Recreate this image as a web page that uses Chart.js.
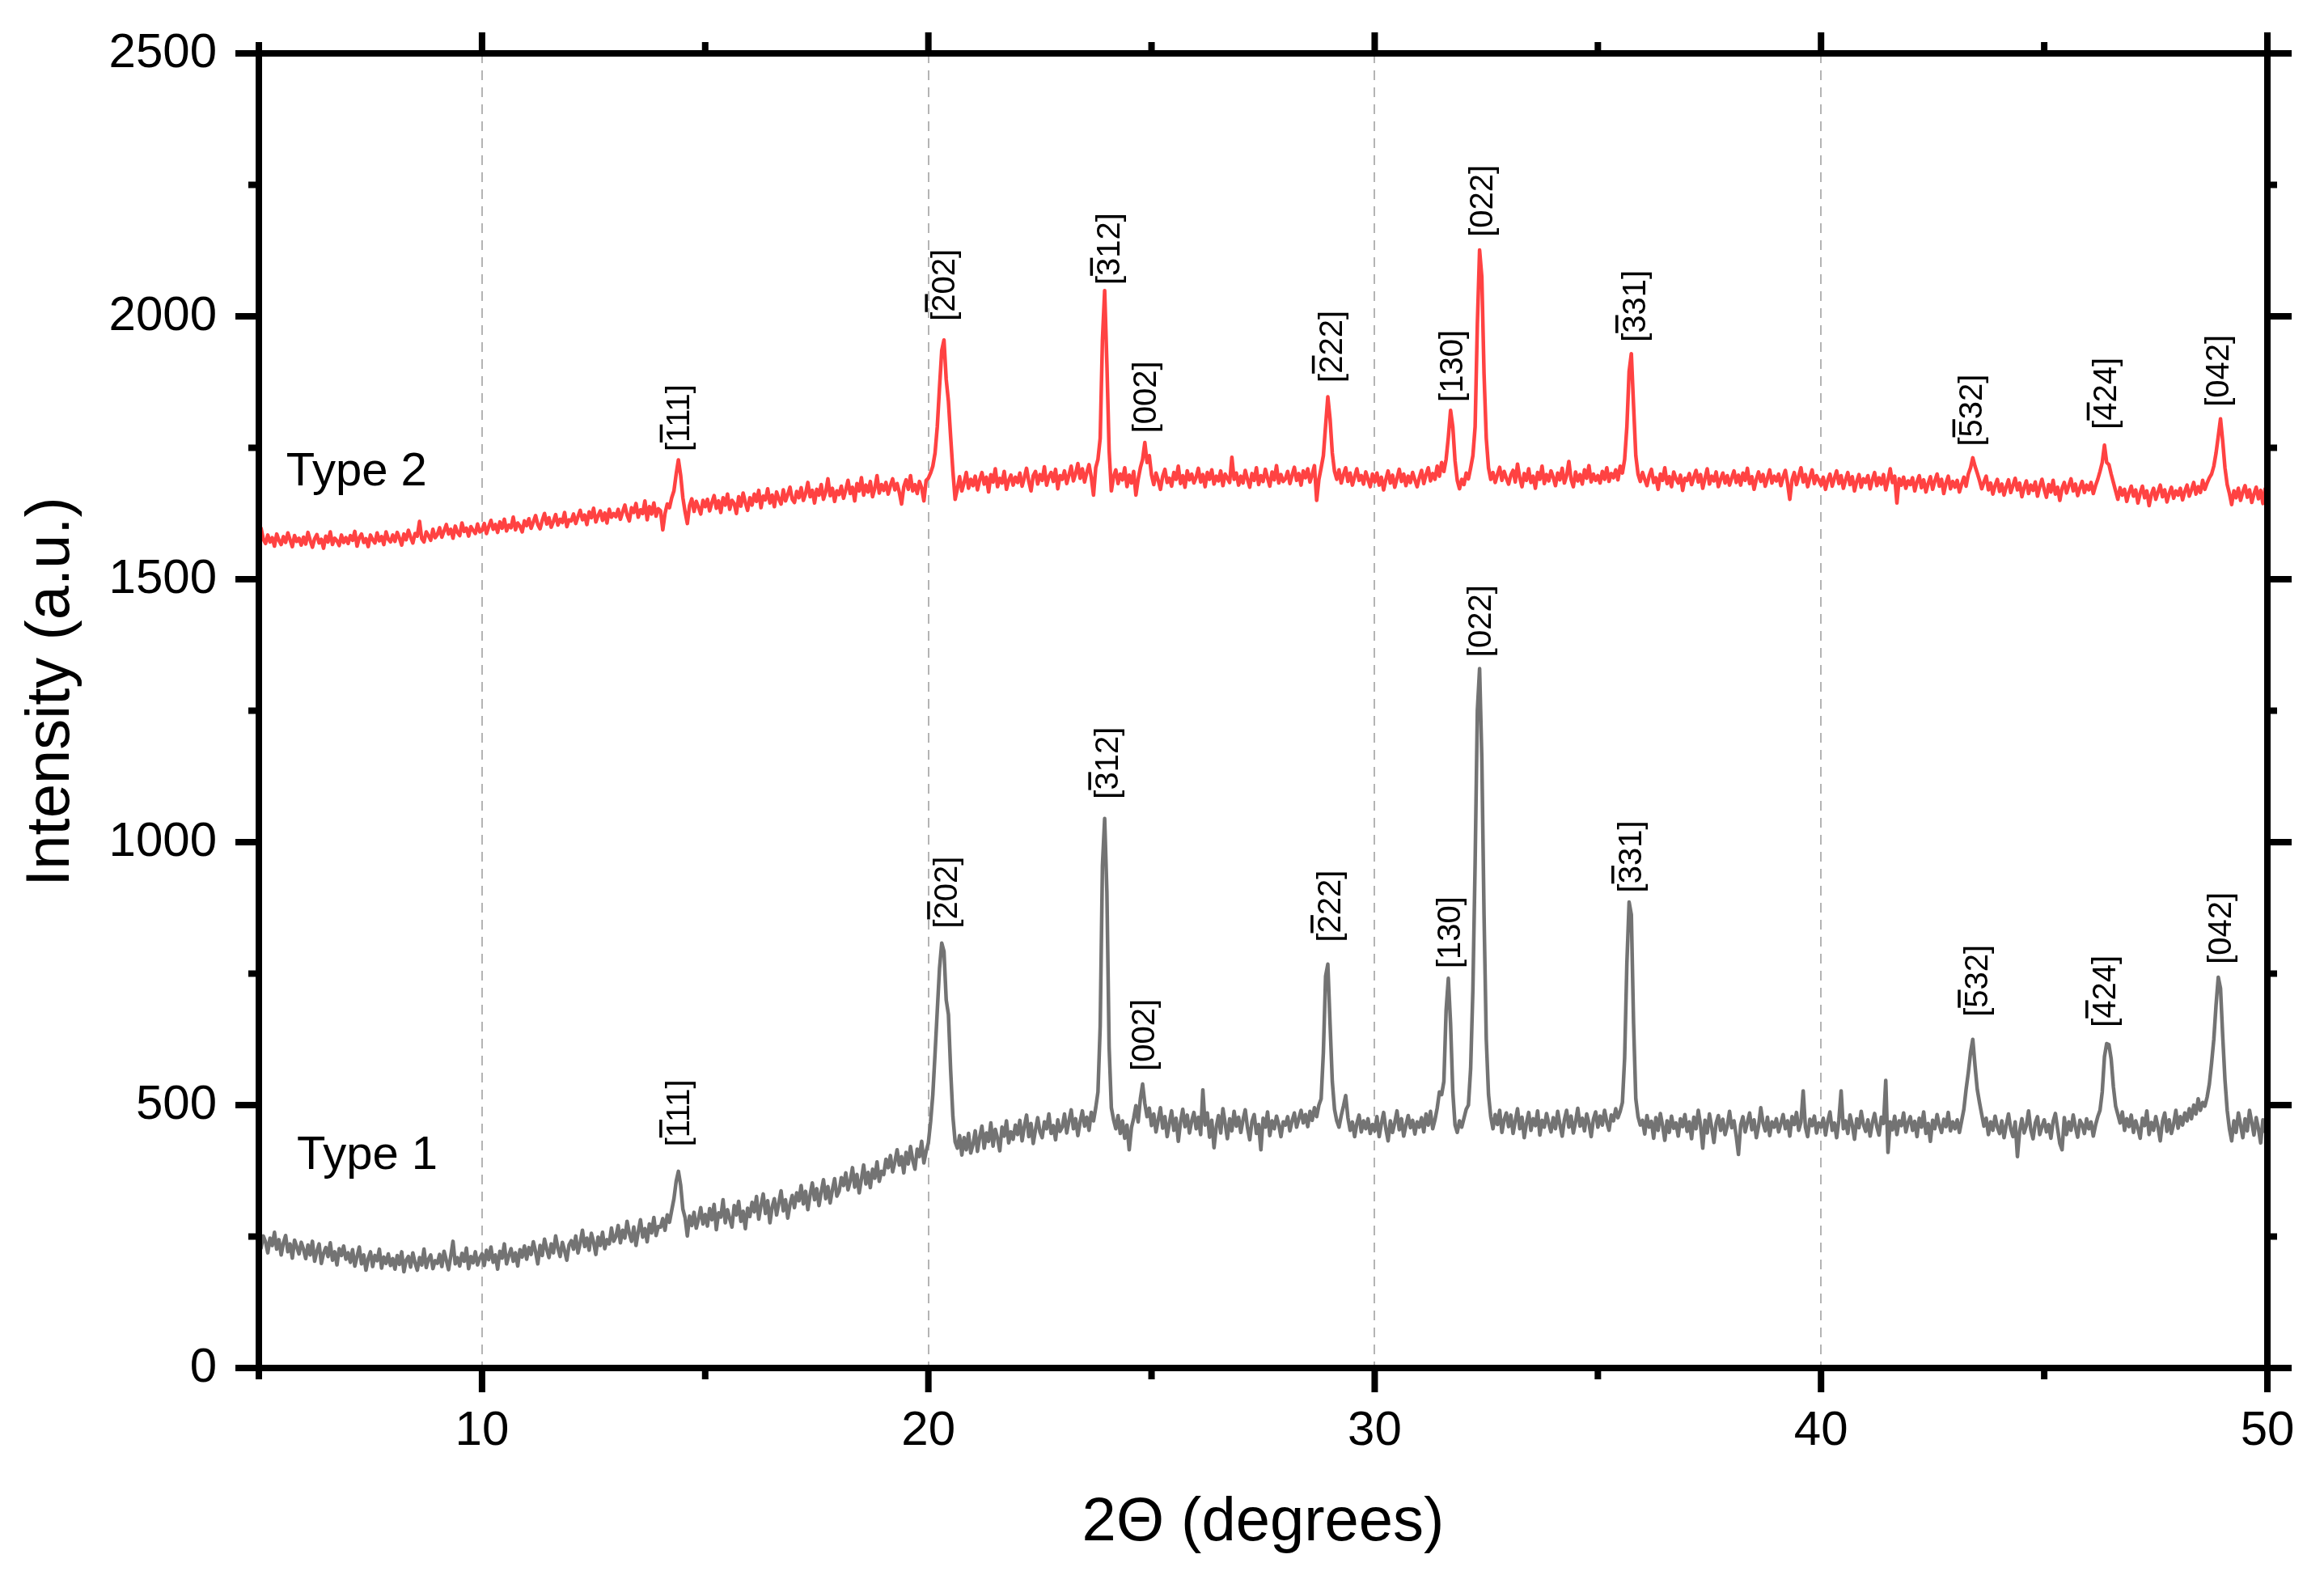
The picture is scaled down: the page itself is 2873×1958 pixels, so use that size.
<!DOCTYPE html>
<html>
<head>
<meta charset="utf-8">
<script src="https://cdn.jsdelivr.net/npm/chart.js@4/dist/chart.umd.min.js"></script>
<style>
  html, body { margin: 0; padding: 0; background: #fff; }
  canvas { display: block; }
</style>
</head>
<body>
<canvas id="xrd" width="2873" height="1958"></canvas>
<script>
// scan: 5 to 50 deg 2theta, one reading every 0.05 deg
const scanStart = 5;
const scanStep = 0.05;

// Type 1 intensity, one row per degree (d.00 ... d.95)
const typeOne = [
  262, 228, 251, 240, 219, 247, 233, 258, 226, 244, 215, 238, 252, 221, 236, 209, 243, 230, 217, 239,
  226, 208, 234, 215, 241, 203, 222, 236, 199, 218, 229, 212, 238, 205, 221, 196, 227, 214, 232, 207,
  219, 201, 225, 194, 212, 230, 198, 215, 186, 208, 221, 193, 214, 204, 226, 190, 211, 199, 217, 195,
  208, 188, 214, 197, 221, 183, 205, 212, 192, 219, 200, 186, 210, 196, 226, 191, 207, 215, 189, 204,
  199, 216, 193, 222, 205, 187, 213, 241, 198, 210, 194, 218, 203, 228, 189, 212, 200, 221, 196, 209,
  217, 195, 224, 206, 230, 201, 215, 188, 222, 209, 236, 198, 214, 227, 203, 219, 194, 225, 211, 232,
  207, 229, 216, 240, 221, 198, 233, 214, 245, 226, 210, 236, 219, 251, 228, 212, 239, 223, 205, 234,
  242, 226, 251, 219, 238, 262, 231, 247, 224, 256, 239, 216, 249, 233, 258, 227, 244, 236, 266, 241,
  250, 271, 238, 262, 247, 279, 256, 241, 268, 233, 259, 282, 249, 265, 240, 274, 257, 286, 252, 269,
  268, 284, 262, 291, 277, 300, 322, 355, 374, 348, 302, 286, 251, 289, 271, 296, 266, 283, 305, 274,
  292, 270, 303, 282, 311, 263, 295, 287, 320, 276, 301, 284, 268, 309, 291, 317, 279, 298, 265, 304,
  288, 315, 297, 326, 283, 309, 331, 294, 318, 276, 306, 322, 291, 314, 337, 299, 320, 285, 311, 328,
  305, 333, 318, 347, 312, 336, 301, 329, 352, 320, 341, 309, 335, 358, 322, 345, 314, 339, 360, 327,
  336, 362, 347, 371, 339, 356, 381, 344, 368, 333, 359, 386, 350, 372, 343, 378, 361, 392, 355, 374,
  368, 397, 381, 404, 373, 392, 415, 386, 402, 371, 410, 388, 421, 395, 378, 416, 402, 431, 390, 412,
  428, 468, 520, 598, 680, 760, 808, 792, 700, 672, 565, 478, 430, 418, 442, 405, 438, 415, 446, 409,
  425, 451, 412, 439, 460, 418, 447, 431, 466, 422, 454, 437, 413, 458, 441, 470, 428, 449, 435, 462,
  444, 471, 432, 459, 481, 440, 465, 427, 453, 476, 449, 438, 468, 455, 483, 446, 461, 434, 472, 450,
  458, 483, 447, 470, 491, 455, 474, 442, 468, 489, 460, 477, 452, 486, 470, 495, 525, 650, 955, 1045,
  905, 610, 495, 472, 455, 480, 446, 470, 437, 462, 415, 457, 475, 499, 468, 512, 540, 503, 478, 494,
  461, 483, 449, 472, 495, 456, 478, 440, 466, 489, 452, 475, 431, 468, 492, 459, 481, 447, 470, 486,
  455, 477, 444, 529, 462, 485, 439, 471, 419, 458, 480, 447, 493, 465, 436, 474, 451, 488, 460, 477,
  448, 472, 491, 457, 434, 469, 482, 446, 463, 415, 475, 458, 487, 442, 470, 455, 479, 463, 440, 468,
  462, 478, 451, 470, 485, 458, 474, 490, 466, 482, 459, 488, 471, 495, 478, 500, 512, 600, 745, 768,
  655, 545, 492, 470, 458, 480, 498, 518, 476, 452, 468, 440, 465, 481, 449, 470, 455, 474, 446, 463,
  451, 478, 440, 465, 486, 455, 432, 470, 448, 467, 489, 453, 474, 441, 462, 480, 457, 471, 445, 468,
  458, 476, 449, 483, 462, 488, 455, 472, 494, 525, 520, 545, 680, 741, 655, 525, 462, 448, 470, 458,
  475, 492, 500, 570, 720, 960, 1250, 1330, 1160, 860, 625, 520, 478, 455, 482, 463, 490, 448, 472, 485,
  459, 481, 446, 470, 493, 455, 477, 438, 466, 486, 452, 474, 461, 489, 443, 471, 458, 484, 465, 449,
  476, 455, 488, 463, 441, 472, 490, 458, 479, 447, 468, 494, 460, 475, 451, 483, 466, 440, 473, 487,
  458, 479, 462, 490, 468, 452, 481, 470, 493, 476, 488, 505, 590, 770, 886, 862, 655, 512, 478, 462,
  471, 445, 480, 458, 469, 437, 476, 452, 484, 461, 433, 470, 448, 479, 456, 466, 441, 474, 459, 482,
  450, 468, 436, 477, 455, 490, 462, 418, 471, 447, 483, 458, 429, 466, 480, 452, 473, 444, 461, 488,
  457, 470, 441, 406, 462, 478, 449, 467, 485, 453, 472, 438, 460, 495, 466, 451, 477, 442, 468, 458,
  474, 449, 465, 482, 455, 470, 441, 478, 463, 486, 452, 468, 527, 458, 440, 473, 461, 479, 447, 466,
  458, 475, 443, 469, 487, 452, 466, 438, 472, 527, 455, 470, 446, 481, 462, 435, 474, 457, 488, 463,
  450, 472, 441, 466, 484, 459, 443, 477, 465, 547, 410, 468, 453, 479, 444, 470, 461, 485, 449, 467,
  478, 452, 469, 440, 475, 458, 487, 446, 465, 431, 471, 455, 482, 462, 448, 473, 459, 486, 451, 468,
  455, 472, 448, 470, 492, 530, 562, 600, 625, 575, 530, 505, 482, 460, 475, 444, 468, 452, 479, 458,
  446, 470, 438, 462, 483, 455, 440, 468, 402, 451, 474, 447, 461, 489, 453, 436, 466, 478, 444, 459,
  472, 449, 463, 437, 469, 484, 455, 427, 415, 476, 444, 468, 452, 481, 458, 439, 471, 463, 446, 474,
  455, 468, 441, 462, 478, 490, 525, 592, 617, 615, 588, 535, 498, 482, 466, 487, 452, 474, 459, 481,
  448, 470, 456, 437, 475, 461, 489, 444, 467, 452, 478, 458, 432, 469, 485, 450, 472, 446, 464, 490,
  456, 478, 462, 485, 470, 493, 474, 500, 483, 512, 490, 505, 498, 515, 540, 580, 625, 690, 743, 722,
  630, 548, 490, 455, 432, 470, 448, 485, 462, 438, 474, 451, 490, 467, 443, 476, 455, 428, 472, 450,
  440
];

// Type 2 intensity, same grid
const typeTwo = [
  1558, 1597, 1576, 1568, 1584, 1571, 1579, 1563, 1586, 1574, 1566, 1581, 1570, 1588, 1575, 1562, 1583, 1572, 1578, 1565,
  1580, 1567, 1589, 1574, 1561, 1577, 1585, 1569, 1576, 1559, 1582, 1571, 1590, 1566, 1578, 1573, 1564, 1584, 1570, 1579,
  1568, 1583, 1574, 1591, 1563, 1579, 1586, 1570, 1577, 1562, 1584, 1575, 1569, 1588, 1573, 1581, 1566, 1590, 1576, 1571,
  1584, 1572, 1589, 1578, 1565, 1586, 1575, 1593, 1580, 1569, 1587, 1582, 1610, 1577, 1571, 1590, 1583, 1574, 1595, 1579,
  1585, 1598, 1580, 1592, 1604, 1586, 1595, 1578, 1601, 1589, 1583, 1607, 1591, 1597, 1582, 1600, 1593, 1587, 1605, 1590,
  1593, 1606, 1587, 1600, 1612, 1595, 1604, 1589, 1609, 1597, 1614, 1592, 1603, 1598, 1618, 1594, 1607, 1601, 1590, 1611,
  1602, 1615, 1597, 1609, 1621, 1604, 1596, 1612, 1625, 1605, 1617, 1599, 1610, 1623, 1603, 1614, 1608, 1627, 1600, 1613,
  1611, 1624, 1606, 1619, 1631, 1613, 1622, 1604, 1628, 1617, 1635, 1609, 1621, 1630, 1612, 1626, 1607, 1633, 1618, 1625,
  1619, 1633, 1614, 1628, 1641, 1622, 1611, 1636, 1627, 1644, 1618, 1632, 1625, 1649, 1613, 1638, 1624, 1645, 1620, 1634,
  1630, 1594, 1625, 1643, 1636, 1655, 1668, 1700, 1727, 1698, 1655, 1628, 1606, 1640, 1653, 1629, 1648, 1637, 1624, 1650,
  1638, 1652, 1630, 1646, 1659, 1635, 1649, 1627, 1655, 1641, 1662, 1633, 1650, 1644, 1625, 1657, 1639, 1664, 1646, 1631,
  1655, 1641, 1662, 1648, 1669, 1636, 1658, 1651, 1672, 1645, 1660, 1638, 1666, 1653, 1643, 1670, 1649, 1661, 1675, 1652,
  1646, 1667, 1655, 1674, 1650, 1663, 1684, 1657, 1669, 1645, 1671, 1660, 1680, 1652, 1666, 1691, 1659, 1673, 1648, 1668,
  1661, 1677, 1654, 1670, 1688, 1663, 1675, 1649, 1682, 1668, 1693, 1660, 1679, 1666, 1686, 1657, 1673, 1697, 1664, 1680,
  1669, 1684, 1662, 1678, 1691, 1670, 1682, 1665, 1643, 1676, 1689, 1671, 1697, 1668, 1680, 1663, 1686, 1674, 1649, 1688,
  1692, 1702, 1715, 1740, 1790, 1865, 1935, 1955, 1880, 1838, 1770, 1705, 1652, 1672, 1695, 1668, 1684, 1703, 1673, 1690,
  1678, 1696, 1670, 1689, 1703, 1681, 1694, 1666, 1699, 1685, 1710, 1676, 1692, 1683, 1705, 1671, 1688, 1698, 1679, 1694,
  1684, 1702, 1677, 1693, 1711, 1686, 1668, 1697, 1705, 1681, 1699, 1688, 1714, 1679, 1695, 1703, 1686, 1709, 1672, 1697,
  1690, 1706, 1682, 1698, 1715, 1687, 1701, 1720, 1692, 1710, 1685, 1703, 1718, 1694, 1660, 1712, 1728, 1768, 1955, 2049,
  1910, 1745, 1668, 1695, 1708, 1682, 1700, 1689, 1712, 1676, 1698, 1683, 1705, 1660, 1690, 1712, 1728, 1760, 1722, 1735,
  1698, 1680, 1702, 1688, 1671, 1696, 1709, 1684, 1692, 1677, 1703, 1690, 1715, 1682, 1697, 1675, 1706, 1689, 1700, 1683,
  1694, 1711, 1685, 1699, 1676, 1703, 1690, 1708, 1681, 1696, 1687, 1706, 1678, 1700, 1692, 1684, 1732, 1690, 1702, 1679,
  1696, 1683, 1707, 1690, 1675, 1701, 1688, 1712, 1680, 1697, 1686, 1709, 1692, 1677, 1704, 1689, 1716, 1683, 1699, 1686,
  1691, 1705, 1682, 1698, 1713, 1688, 1701, 1679, 1706, 1693, 1710, 1685, 1699, 1716, 1650, 1690, 1712, 1735, 1792, 1847,
  1805, 1740, 1705, 1690, 1708, 1683, 1699, 1712, 1686, 1702, 1679, 1695, 1710, 1688, 1697, 1681, 1704, 1690, 1676, 1700,
  1685, 1702, 1679, 1694, 1670, 1690, 1706, 1683, 1698, 1675, 1692, 1709, 1686, 1700, 1678, 1696, 1684, 1703, 1689, 1676,
  1693, 1707, 1682, 1699, 1712, 1687, 1701, 1690, 1715, 1696, 1722, 1705, 1728, 1770, 1821, 1790, 1725, 1688, 1672, 1690,
  1680, 1702, 1691, 1712, 1735, 1790, 1985, 2126, 2075, 1890, 1768, 1712, 1690, 1703, 1684, 1699, 1713, 1688, 1705, 1692,
  1681, 1698, 1707, 1685, 1719, 1693, 1676, 1701, 1688, 1710, 1684, 1696, 1673, 1703, 1690, 1715, 1682, 1699, 1687, 1706,
  1694, 1678, 1702, 1689, 1711, 1683, 1697, 1724, 1690, 1676, 1704, 1687, 1699, 1681, 1708, 1692, 1716, 1685, 1700, 1688,
  1697, 1683, 1705, 1690, 1712, 1686, 1701, 1693, 1708, 1689, 1715, 1702, 1728, 1790, 1895, 1929, 1830, 1735, 1700, 1686,
  1703, 1690, 1678, 1697, 1709, 1684, 1693, 1671, 1700, 1688, 1712, 1682, 1695, 1676, 1704, 1691, 1683, 1698, 1669, 1692,
  1688, 1701, 1680, 1694, 1707, 1685, 1699, 1673, 1692, 1710, 1681, 1696, 1687, 1704, 1676, 1690, 1702, 1683, 1697, 1679,
  1693, 1706, 1684, 1698, 1679, 1702, 1688, 1711, 1682, 1695, 1671, 1690, 1704, 1686, 1699, 1677, 1692, 1708, 1683, 1696,
  1687, 1700, 1678, 1694, 1707, 1683, 1652, 1689, 1703, 1680, 1696, 1712, 1685, 1699, 1676, 1693, 1708, 1682, 1697, 1688,
  1679, 1694, 1671, 1688, 1700, 1677, 1692, 1706, 1682, 1697, 1673, 1689, 1703, 1680, 1695, 1668, 1686, 1699, 1675, 1691,
  1684, 1697, 1672, 1689, 1703, 1678, 1693, 1681, 1699, 1670, 1688, 1710, 1684, 1696, 1645, 1691, 1679, 1694, 1673, 1687,
  1680, 1693, 1668, 1685, 1697, 1674, 1689, 1666, 1682, 1695, 1671, 1687, 1700, 1677, 1690, 1663, 1683, 1696, 1672, 1686,
  1675, 1688, 1666, 1681, 1694, 1677, 1700, 1712, 1731, 1715, 1702, 1688, 1672, 1685, 1696, 1670, 1683, 1662, 1678, 1690,
  1667, 1681, 1660, 1676, 1689, 1665, 1678, 1692, 1670, 1683, 1657, 1674, 1687, 1663, 1679, 1669, 1685, 1658, 1676, 1690,
  1671, 1656, 1680, 1666, 1688, 1662, 1675, 1650, 1673, 1684, 1664, 1678, 1691, 1668, 1681, 1659, 1674, 1686, 1665, 1679,
  1670, 1684, 1663, 1678, 1690, 1705, 1722, 1755, 1722, 1718, 1700, 1684, 1668, 1652, 1674, 1660, 1671, 1648, 1665, 1677,
  1658, 1670, 1645, 1664, 1677, 1655, 1668, 1640, 1661, 1673, 1652, 1666, 1679, 1657, 1670, 1647, 1663, 1675, 1654, 1668,
  1660, 1673, 1651, 1667, 1679, 1658, 1670, 1684, 1662, 1676, 1665, 1688, 1671, 1683, 1693, 1700, 1715, 1740, 1772, 1805,
  1762, 1712, 1680, 1663, 1642, 1668, 1655, 1673, 1650, 1666, 1678, 1656, 1670, 1646, 1662, 1675, 1653, 1669, 1644, 1672,
  1660
];

// reflections; hklBar marks a negative first index
const hkl = ['111', '202', '312', '002', '222', '130', '022', '331', '532', '424', '042'];
const hklBar = [true, true, true, false, true, false, false, true, true, true, false];
const labelAngleOne = [14.45, 20.45, 24.06, 24.88, 29.04, 31.72, 32.42, 35.78, 43.54, 46.40, 49.00];
const labelLevelOne = [421, 836, 1082, 565, 810, 760, 1352, 904, 668, 648, 768];
const labelAngleTwo = [14.46, 20.40, 24.10, 24.91, 29.07, 31.77, 32.45, 35.87, 43.42, 46.43, 48.95];
const labelLevelTwo = [1743, 1991, 2060, 1778, 1874, 1837, 2151, 1951, 1753, 1785, 1828];

const seriesNames = ['Type 1', 'Type 2'];
const seriesNameAngle = [5.85, 5.61];
const seriesNameLevel = [378, 1678];

const xMajor = [10, 20, 30, 40, 50];
const xMinor = [5, 15, 25, 35, 45];
const yMajor = [0, 500, 1000, 1500, 2000, 2500];
const yMinor = [250, 750, 1250, 1750, 2250];

const FONT = '"Liberation Sans", Arial, sans-serif';

const twoTheta = typeOne.map((v, i) => +(scanStart + i * scanStep).toFixed(2));
const pts = arr => arr.map((v, i) => ({ x: twoTheta[i], y: v }));

const decor = {
  id: 'decor',
  afterDraw(chart) {
    const ctx = chart.ctx;
    const a = chart.chartArea;
    const x = chart.scales.x, y = chart.scales.y;
    ctx.save();

    // frame + ticks on all four sides, pointing out
    ctx.strokeStyle = '#000';
    ctx.lineCap = 'butt';
    ctx.lineWidth = 8;
    const seg = (x1, y1, x2, y2) => { ctx.beginPath(); ctx.moveTo(x1, y1); ctx.lineTo(x2, y2); ctx.stroke(); };
    xMajor.forEach(v => { const p = x.getPixelForValue(v); seg(p, a.bottom, p, a.bottom + 30); seg(p, a.top, p, a.top - 26); });
    xMinor.forEach(v => { const p = x.getPixelForValue(v); seg(p, a.bottom, p, a.bottom + 14); seg(p, a.top, p, a.top - 14); });
    yMajor.forEach(v => { const p = y.getPixelForValue(v); seg(a.left, p, a.left - 29, p); seg(a.right, p, a.right + 30, p); });
    yMinor.forEach(v => { const p = y.getPixelForValue(v); seg(a.left, p, a.left - 13, p); seg(a.right, p, a.right + 12, p); });
    ctx.lineJoin = 'miter';
    ctx.strokeRect(a.left, a.top, a.right - a.left, a.bottom - a.top);

    // y title
    ctx.fillStyle = '#000';
    ctx.font = '76px ' + FONT;
    ctx.save();
    ctx.translate(64, 855);
    ctx.rotate(-Math.PI / 2);
    ctx.textAlign = 'center';
    ctx.textBaseline = 'middle';
    ctx.fillText('Intensity (a.u.)', 0, 0);
    ctx.restore();

    // series names
    ctx.font = '58px ' + FONT;
    ctx.textAlign = 'left';
    ctx.textBaseline = 'alphabetic';
    seriesNames.forEach((s, i) => {
      ctx.fillText(s, x.getPixelForValue(seriesNameAngle[i]), y.getPixelForValue(seriesNameLevel[i]));
    });

    // peak labels, rotated
    const size = 40;
    ctx.font = size + 'px ' + FONT;
    const wB = ctx.measureText('[').width;
    const drawSet = (angles, levels) => {
      hkl.forEach((h, i) => {
        ctx.save();
        ctx.translate(x.getPixelForValue(angles[i]), y.getPixelForValue(levels[i]));
        ctx.rotate(-Math.PI / 2);
        ctx.textAlign = 'left';
        ctx.textBaseline = 'alphabetic';
        ctx.fillText('[' + h + ']', 0, 0.26 * size);
        if (hklBar[i]) {
          const wD = ctx.measureText(h[0]).width;
          ctx.fillRect(wB, -0.47 * size - 7.5, wD, 3.5);
        }
        ctx.restore();
      });
    };
    drawSet(labelAngleOne, labelLevelOne);
    drawSet(labelAngleTwo, labelLevelTwo);

    ctx.restore();
  }
};

new Chart(document.getElementById('xrd'), {
  type: 'line',
  data: {
    datasets: [
      { label: 'Type 1', data: pts(typeOne), borderColor: '#737373', borderWidth: 4.5 },
      { label: 'Type 2', data: pts(typeTwo), borderColor: '#ff4242', borderWidth: 4.5 }
    ]
  },
  options: {
    responsive: false,
    devicePixelRatio: 1,
    animation: false,
    parsing: false,
    layout: { padding: { top: 66, right: 70, left: 0, bottom: 0 } },
    elements: { point: { radius: 0 }, line: { tension: 0, fill: false, borderJoinStyle: 'round' } },
    plugins: { legend: { display: false }, tooltip: { enabled: false } },
    scales: {
      x: {
        type: 'linear',
        min: 5,
        max: 50,
        afterBuildTicks: s => { s.ticks = xMajor.map(v => ({ value: v })); },
        afterFit: s => { s.height = 267; s.paddingLeft = 0; s.paddingRight = 0; },
        grid: {
          color: c => (c.tick && c.tick.value < 50 ? '#b4b4b4' : 'rgba(0,0,0,0)'),
          lineWidth: 2,
          drawTicks: false
        },
        border: { display: false, dash: [12, 9] },
        ticks: {
          font: { family: FONT, size: 60 },
          color: '#000',
          padding: 42,
          maxRotation: 0,
          autoSkip: false,
          callback: v => String(v)
        },
        title: {
          display: true,
          text: '2\u0398 (degrees)',
          font: { family: FONT, size: 76 },
          color: '#000',
          padding: { top: 0, bottom: 29 }
        }
      },
      y: {
        min: 0,
        max: 2500,
        afterBuildTicks: s => { s.ticks = yMajor.map(v => ({ value: v })); },
        afterFit: s => { s.width = 320; s.paddingTop = 0; s.paddingBottom = 0; },
        grid: { display: false, drawTicks: false },
        border: { display: false },
        ticks: {
          font: { family: FONT, size: 60 },
          color: '#000',
          padding: 52,
          callback: v => String(v)
        }
      }
    }
  },
  plugins: [decor]
});
</script>
</body>
</html>
